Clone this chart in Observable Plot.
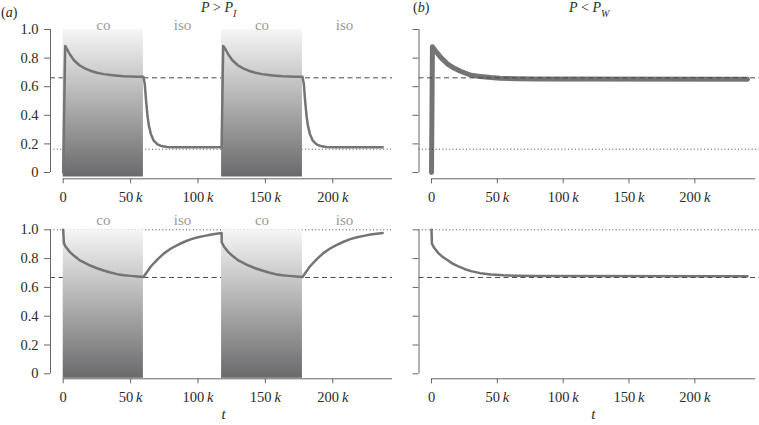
<!DOCTYPE html>
<html>
<head>
<meta charset="utf-8">
<script src="https://cdn.jsdelivr.net/npm/d3@7"></script>
<script src="https://cdn.jsdelivr.net/npm/@observablehq/plot@0.6"></script>
<style>
  body { margin: 0; background: #fff; }
  #chart { position: relative; width: 759px; height: 425px; overflow: hidden;
           font-family: "Liberation Serif", "Times New Roman", serif; color: #2b2b2b; }
  #chart svg { position: absolute; overflow: visible; }
  #chart svg text { font-family: "Liberation Serif", "Times New Roman", serif; }
  .lab { position: absolute; white-space: nowrap; line-height: 1; font-size: 14px; color: #2b2b2b; }
  .lab i { font-style: italic; }
  .lab .sub { font-size: 10px; font-style: italic; position: relative; top: 4.5px; }
</style>
</head>
<body>
<div id="chart"></div>
<script>
// ---------- data (t in thousands) ----------
const xTicks = [0, 50000, 100000, 150000, 200000];
const yTicks = [0, 0.2, 0.4, 0.6, 0.8, 1.0];

const phaseNames  = ["co", "iso", "co", "iso"];
const phaseStartK = [0, 59.5, 117.5, 177.5];
const phaseEndK   = [59.5, 117.5, 177.5, 240];

const dashTop = 0.662, dotTop = 0.163;
const dashBottom = 0.669, dotBottom = 1.0;

// (a) top: P > P_I
const tTopA = [0, 1.5, 3, 5, 8, 12, 16, 20, 25, 30, 35, 40, 45, 50, 55, 59.5,
  60.5, 61.5, 62.5, 63.5, 65, 67, 70, 73, 77, 82, 117.5,
  118.7, 120.5, 122.5, 125.5, 129.5, 133.5, 137.5, 142.5, 147.5, 152.5, 157.5, 162.5, 167.5, 172.5, 177.5,
  178.5, 179.5, 180.5, 181.5, 183, 185, 188, 191, 195, 200, 237];
const vTopA = [0, 0.885, 0.86, 0.825, 0.785, 0.75, 0.728, 0.712, 0.698, 0.688, 0.682, 0.677, 0.673, 0.671, 0.670, 0.669,
  0.62, 0.50, 0.40, 0.33, 0.27, 0.225, 0.197, 0.185, 0.179, 0.177, 0.177,
  0.885, 0.86, 0.825, 0.785, 0.75, 0.728, 0.712, 0.698, 0.688, 0.682, 0.677, 0.673, 0.671, 0.670, 0.669,
  0.62, 0.50, 0.40, 0.33, 0.27, 0.225, 0.197, 0.185, 0.179, 0.177, 0.177];

// (a) bottom
const tBotA = [0, 0.5, 2, 5, 8, 12, 15, 20, 25, 30, 35, 40, 45, 50, 55, 59.5,
  62, 65, 70, 75, 80, 85, 90, 95, 100, 105, 110, 117.5,
  117.6, 119.5, 122.5, 125.5, 129.5, 132.5, 137.5, 142.5, 147.5, 152.5, 157.5, 162.5, 167.5, 172.5, 177.5,
  180, 183, 188, 193, 198, 203, 208, 213, 218, 223, 228, 237];
const vBotA = [1.0, 0.907, 0.88, 0.845, 0.82, 0.79, 0.775, 0.752, 0.733, 0.717, 0.703, 0.692, 0.685, 0.68, 0.676, 0.673,
  0.705, 0.745, 0.795, 0.838, 0.87, 0.895, 0.917, 0.935, 0.948, 0.958, 0.967, 0.977,
  0.912, 0.88, 0.845, 0.82, 0.79, 0.775, 0.752, 0.733, 0.717, 0.703, 0.692, 0.685, 0.68, 0.676, 0.673,
  0.705, 0.745, 0.795, 0.838, 0.87, 0.895, 0.917, 0.935, 0.948, 0.958, 0.967, 0.977];

// (b) top: P < P_W
const tTopB = [0, 0.7, 3, 7, 12, 17, 22, 30, 37, 45, 52, 65, 80, 240];
const vTopB = [0, 0.88, 0.85, 0.805, 0.76, 0.73, 0.708, 0.68, 0.672, 0.664, 0.659, 0.655, 0.653, 0.652];

// (b) bottom
const tBotB = [0, 0.3, 2, 5, 8, 12, 16, 20, 25, 30, 37, 45, 55, 65, 80, 240];
const vBotB = [1.0, 0.905, 0.875, 0.84, 0.815, 0.79, 0.765, 0.748, 0.728, 0.713, 0.699, 0.69, 0.684, 0.681, 0.679, 0.678];

// ---------- drawing ----------
const ns = "http://www.w3.org/2000/svg";
function gradientDefs(id) {
  return () => {
    const d = document.createElementNS(ns, "defs");
    const g = document.createElementNS(ns, "linearGradient");
    g.setAttribute("id", id);
    g.setAttribute("x1", "0"); g.setAttribute("y1", "0");
    g.setAttribute("x2", "0"); g.setAttribute("y2", "1");
    [["0", "#f6f6f6"], ["1", "#6a6a6c"]].forEach(([o, c]) => {
      const s = document.createElementNS(ns, "stop");
      s.setAttribute("offset", o); s.setAttribute("stop-color", c);
      g.appendChild(s);
    });
    d.appendChild(g);
    return d;
  };
}

const fmtX = d => d === 0 ? "0" : (d / 1000) + " k";
const fmtY = d => d === 0 ? "0" : d.toFixed(1);
const chart = document.getElementById("chart");

function panel(cfg) {
  const data = cfg.t.map((t, i) => ({t: t * 1000, v: cfg.v[i]}));
  const phases = phaseNames.map((n, i) => ({name: n, x1: phaseStartK[i] * 1000, x2: phaseEndK[i] * 1000}));
  const co = phases.filter(p => p.name === "co");
  const rules = [
    Plot.ruleY([cfg.dash], {stroke: "#4a4a4a", strokeWidth: 1, strokeDasharray: "5,3.5"}),
    Plot.ruleY([cfg.dot], {stroke: "#4a4a4a", strokeWidth: 1, strokeDasharray: "1,2.4"})
  ];
  const line = Plot.line(data, {x: "t", y: "v", stroke: "#747474", strokeWidth: cfg.sw, strokeLinejoin: "round"});
  const marks = [];
  if (cfg.shaded) {
    marks.push(gradientDefs(cfg.id));
    marks.push(...rules);
    marks.push(Plot.rect(co, {x1: "x1", x2: "x2", y1: 0, y2: 1, fill: `url(#${cfg.id})`, insetBottom: -4.5}));
    marks.push(line);
    marks.push(Plot.text(phases, {x: d => (d.x1 + d.x2) / 2, y: 1, text: "name", dy: cfg.labDy, fill: "#9a9a9a", fontSize: 15}));
  } else {
    marks.push(line);
    marks.push(...rules);
  }
  // axes
  marks.push(Plot.ruleX([0], {y1: 0, y2: 1, dx: -cfg.insetLeft, stroke: "#666"}));
  marks.push(Plot.ruleY([0], {x1: 0, x2: cfg.axisEnd, dy: cfg.insetBottom, stroke: "#666"}));
  marks.push(Plot.axisY({ticks: yTicks, tickFormat: cfg.yLabels ? fmtY : () => "", tickSize: 6, tickPadding: 6, stroke: "#666", label: null}));
  marks.push(Plot.axisX({ticks: xTicks, tickFormat: fmtX, tickSize: 5, tickPadding: 8, stroke: "#666", label: null}));
  if (cfg.tLabel) {
    marks.push(Plot.text(["t"], {frameAnchor: "bottom", dy: 40, dx: cfg.tdx, fontStyle: "italic", fontSize: 15, fill: "#2b2b2b"}));
  }
  const svg = Plot.plot({
    width: cfg.width, height: cfg.height,
    marginLeft: cfg.marginLeft, marginRight: cfg.marginRight,
    marginTop: cfg.marginTop, marginBottom: cfg.marginBottom,
    x: {domain: [0, cfg.xMax], insetLeft: cfg.insetLeft, label: null},
    y: {domain: [0, 1], insetBottom: cfg.insetBottom, label: null},
    style: {fontFamily: '"Liberation Serif", "Times New Roman", serif', fontSize: "14.5px", color: "#2b2b2b", background: "transparent", overflow: "visible"},
    marks
  });
  svg.style.left = cfg.left + "px";
  svg.style.top = cfg.top + "px";
  // italic k in tick labels
  svg.querySelectorAll("text").forEach(t => {
    const s = t.textContent;
    if (/^\d+ k$/.test(s)) {
      t.textContent = s.slice(0, -2) + "\u2009";
      const ts = document.createElementNS(ns, "tspan");
      ts.setAttribute("font-style", "italic");
      ts.textContent = "k";
      t.appendChild(ts);
    }
  });
  chart.appendChild(svg);
}

const leftCommon  = {left: 0, width: 400, marginLeft: 50, marginRight: 8, insetLeft: 12.7, xMax: 244300, axisEnd: 244300, yLabels: true, shaded: true, tdx: 2};
const rightCommon = {left: 380, width: 379, marginLeft: 38.5, marginRight: 0, insetLeft: 12.5, xMax: 249100, axisEnd: 246100, yLabels: false, shaded: false, tdx: 4};

panel({...leftCommon, id: "ga1", top: 0, height: 210, marginTop: 29, marginBottom: 31.7, insetBottom: 6.3,
       t: tTopA, v: vTopA, dash: dashTop, dot: dotTop, sw: 2.5, labDy: -4, tLabel: false});
panel({...rightCommon, id: "gb1", top: 0, height: 210, marginTop: 29, marginBottom: 31.7, insetBottom: 6.3,
       t: tTopB, v: vTopB, dash: dashTop, dot: dotTop, sw: 5, tLabel: false});
panel({...leftCommon, id: "ga2", top: 200, height: 225, marginTop: 29.3, marginBottom: 46.7, insetBottom: 5,
       t: tBotA, v: vBotA, dash: dashBottom, dot: dotBottom, sw: 2.5, labDy: -10, tLabel: true});
panel({...rightCommon, id: "gb2", top: 200, height: 225, marginTop: 29.3, marginBottom: 46.7, insetBottom: 5,
       t: tBotB, v: vBotB, dash: dashBottom, dot: dotBottom, sw: 2.5, tLabel: true});

// titles
function label(html, left, top, extra) {
  const d = document.createElement("div");
  d.className = "lab";
  d.innerHTML = html;
  d.style.left = left + "px";
  d.style.top = top + "px";
  if (extra) Object.assign(d.style, extra);
  chart.appendChild(d);
}
label("(<i>a</i>)", 1, 5.5);
label("(<i>b</i>)", 413, 1);
label("<i>P</i> &gt; <i>P</i><span class='sub'>I</span>", 201, 1, {fontSize: "14px"});
label("<i>P</i> &lt; <i>P</i><span class='sub'>W</span>", 569, 1, {fontSize: "14px"});
</script>
</body>
</html>
